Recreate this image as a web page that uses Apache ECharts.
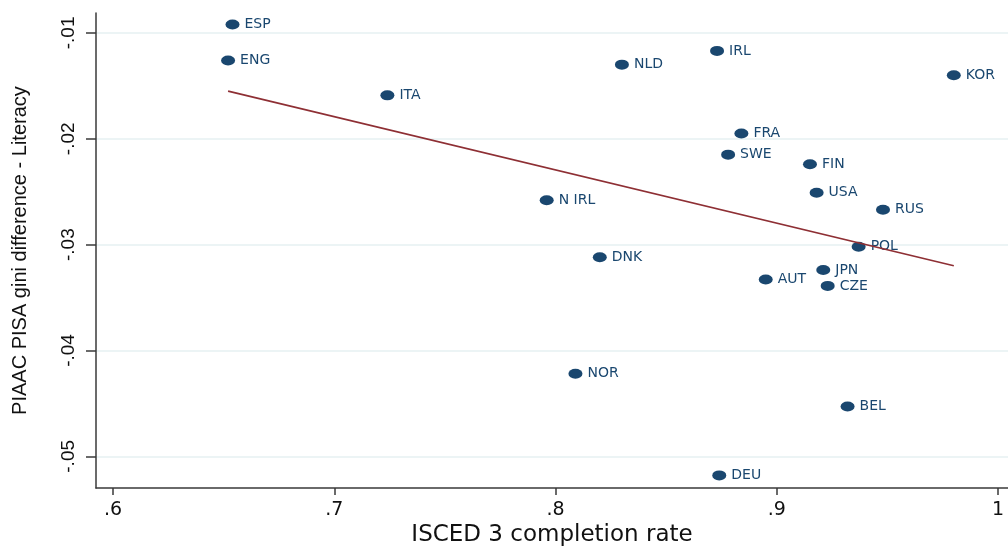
<!DOCTYPE html>
<html>
<head>
<meta charset="utf-8">
<script src="https://cdn.jsdelivr.net/npm/echarts@6/dist/echarts.min.js"></script>
<style>
  html, body { margin: 0; padding: 0; background: #fff; }
  #chart { width: 1008px; height: 552px; }
</style>
</head>
<body>
<div id="chart"></div>
<script>
// country codes and values
const countries = ['ESP', 'ENG', 'ITA', 'NLD', 'IRL', 'KOR', 'FRA', 'SWE', 'FIN', 'USA',
  'N IRL', 'RUS', 'POL', 'DNK', 'JPN', 'AUT', 'CZE', 'NOR', 'BEL', 'DEU']
const completionRate = [0.654, 0.652, 0.724, 0.830, 0.873, 0.980, 0.884, 0.878, 0.915, 0.918,
  0.796, 0.948, 0.937, 0.820, 0.921, 0.895, 0.923, 0.809, 0.932, 0.874]
const giniDiff = [-0.0092, -0.0126, -0.0159, -0.0130, -0.0117, -0.0140, -0.0195, -0.0215, -0.0224, -0.0251,
  -0.0258, -0.0267, -0.0302, -0.0312, -0.0324, -0.0333, -0.0339, -0.0422, -0.0453, -0.0518]

// fitted line end points
const fitX = [0.652, 0.980]
const fitY = [-0.0155, -0.0320]

const xTicks = [0.6, 0.7, 0.8, 0.9, 1]
const yTicks = [-0.05, -0.04, -0.03, -0.02, -0.01]

const navy = '#1a476f'
const fmt = (v) => String(+v.toFixed(2)).replace('0.', '.')

let mychart = echarts.init(document.getElementById('chart'))
mychart.setOption({
  animation: false,
  grid: { left: 96, right: 0, top: 13, bottom: 61, containLabel: false },
  xAxis: {
    type: 'value',
    min: 0.5923,
    max: 1.0045,
    name: 'ISCED 3 completion rate',
    nameLocation: 'middle',
    nameGap: 31,
    nameTextStyle: { fontSize: 23, color: '#111', fontFamily: 'DejaVu Sans' },
    axisLine: { show: true, onZero: false, lineStyle: { color: '#3a3a3a', width: 1.5 } },
    axisTick: { show: true, customValues: xTicks, length: 7, lineStyle: { color: '#3a3a3a', width: 1.5 } },
    axisLabel: {
      customValues: xTicks, margin: 12, fontSize: 19, color: '#111',
      fontFamily: 'DejaVu Sans', formatter: fmt
    },
    splitLine: { show: false }
  },
  yAxis: {
    type: 'value',
    min: -0.0530,
    max: -0.00812,
    name: 'PIAAC PISA gini difference - Literacy',
    nameLocation: 'middle',
    nameGap: 66,
    nameRotate: 90,
    nameTextStyle: { fontSize: 20, color: '#111', fontFamily: 'Liberation Sans' },
    axisLine: { show: true, onZero: false, lineStyle: { color: '#3a3a3a', width: 1.5 } },
    axisTick: { show: true, customValues: yTicks, length: 10, lineStyle: { color: '#3a3a3a', width: 1.5 } },
    axisLabel: {
      customValues: yTicks, rotate: 90, margin: 18, fontSize: 19, color: '#111',
      fontFamily: 'Liberation Sans', formatter: fmt
    },
    splitLine: { show: true, lineStyle: { color: '#e6f0f2', width: 1.5 } }
  },
  series: [
    {
      type: 'scatter',
      symbol: 'circle',
      symbolSize: [14, 10],
      itemStyle: { color: navy, opacity: 1 },
      data: countries.map((c, i) => ({ name: c, value: [completionRate[i], giniDiff[i]] })),
      label: {
        show: true,
        position: 'right',
        distance: 5,
        formatter: (p) => p.name,
        fontSize: 14,
        color: navy,
        fontFamily: 'DejaVu Sans'
      }
    },
    {
      type: 'line',
      showSymbol: false,
      data: fitX.map((x, i) => [x, fitY[i]]),
      lineStyle: { color: '#8e2f34', width: 1.6 },
      z: 3
    }
  ]
})
</script>
</body>
</html>
